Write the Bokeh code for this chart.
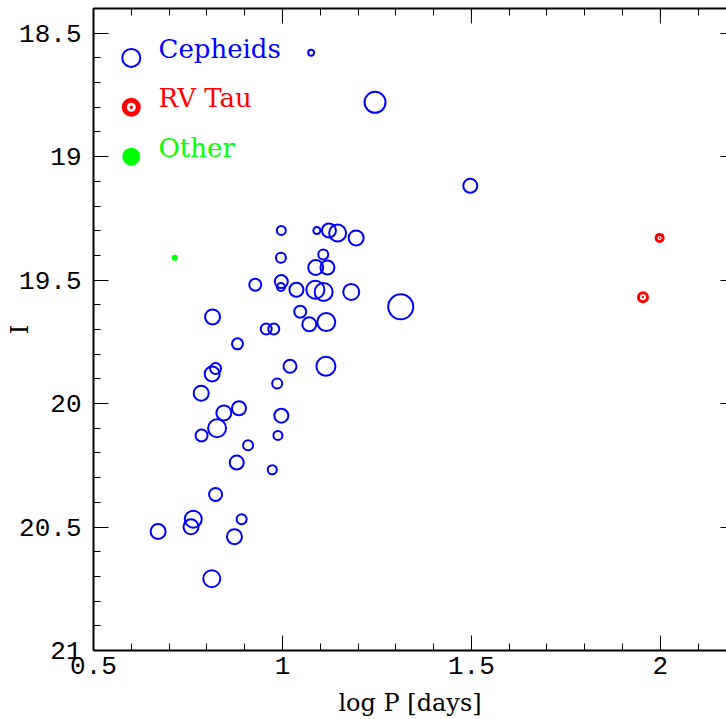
import numpy as np
from bokeh.plotting import figure
from bokeh.models import LinearAxis, FixedTicker, Range1d, ColumnDataSource
from bokeh.core.properties import value
from bokeh.embed import file_html
from bokeh.resources import INLINE

# ---- data ----
cep_logp = [1.076, 1.245, 1.497, 1.313, 0.997, 1.091, 1.123, 1.146, 1.195, 0.996,
            1.108, 1.088, 1.119, 0.928, 0.997, 0.996, 1.037, 1.087, 1.109, 1.182,
            1.047, 1.071, 1.116, 0.957, 0.977, 0.815, 0.881, 1.020, 1.115, 0.823,
            0.814, 0.986, 0.785, 0.885, 0.845, 0.997, 0.827, 0.786, 0.988, 0.909,
            0.879, 0.973, 0.823, 0.764, 0.758, 0.671, 0.892, 0.873, 0.813]
cep_I = [18.579, 18.780, 19.118, 19.608, 19.299, 19.299, 19.299, 19.309, 19.329, 19.409,
         19.396, 19.449, 19.449, 19.519, 19.506, 19.528, 19.539, 19.539, 19.548, 19.548,
         19.628, 19.679, 19.670, 19.698, 19.698, 19.649, 19.758, 19.849, 19.849, 19.858,
         19.880, 19.919, 19.958, 20.019, 20.038, 20.049, 20.100, 20.129, 20.129, 20.169,
         20.239, 20.268, 20.368, 20.468, 20.499, 20.518, 20.468, 20.539, 20.709]
cep_amp = [0.40, 1.15, 0.80, 1.35, 0.55, 0.45, 0.80, 0.95, 0.85, 0.60,
           0.60, 0.85, 0.80, 0.70, 0.75, 0.50, 0.80, 1.00, 1.00, 0.90,
           0.70, 0.80, 1.00, 0.65, 0.65, 0.85, 0.65, 0.75, 1.05, 0.65,
           0.85, 0.60, 0.85, 0.80, 0.85, 0.80, 1.00, 0.70, 0.55, 0.60,
           0.80, 0.55, 0.75, 0.95, 0.85, 0.85, 0.60, 0.85, 0.95]

rv_logp = [1.998, 1.954]
rv_I = [19.329, 19.569]
rv_amp = [0.45, 0.55]

oth_logp = [0.715]
oth_I = [19.409]

legend_labels = ["Cepheids", "RV Tau", "Other"]
legend_colors = ["#0000ff", "#ff0000", "#00ff00"]
legend_I = [18.6, 18.8, 19.0]

x_tick_vals = [0.5, 1.0, 1.5, 2.0]
x_tick_labels = ["0.5", "1", "1.5", "2"]
y_tick_vals = [18.5, 19.0, 19.5, 20.0, 20.5, 21.0]
y_tick_labels = ["18.5", "19", "19.5", "20", "20.5", "21"]

X0, X1 = 0.5, 2.175
Y_BOTTOM, Y_TOP = 21.0, 18.4

# ---- figure ----
p = figure(width=726, height=719,
           x_range=Range1d(X0, X1), y_range=Range1d(Y_BOTTOM, Y_TOP),
           output_backend="svg", toolbar_location=None,
           min_border_left=93, min_border_right=0, min_border_top=8, min_border_bottom=69,
           x_axis_label="log P [days]", y_axis_label="I")
p.outline_line_color = None
p.xgrid.visible = False
p.ygrid.visible = False
p.background_fill_color = "white"
p.border_fill_color = "white"

x_minor = [round(v, 2) for v in np.arange(0.5, 2.21, 0.1)]
y_minor = [round(v, 2) for v in np.arange(18.4, 21.01, 0.1)]

def style(ax, ticker):
    ax.ticker = ticker
    ax.major_tick_in = 15
    ax.major_tick_out = 0
    ax.minor_tick_in = 7
    ax.minor_tick_out = 0
    ax.major_tick_line_color = "black"
    ax.minor_tick_line_color = "black"
    ax.major_tick_line_width = 1
    ax.minor_tick_line_width = 1
    ax.axis_line_color = "black"
    ax.axis_line_width = 2
    ax.major_label_text_font = "Liberation Mono"
    ax.major_label_text_font_size = "26px"
    ax.major_label_text_color = "black"
    ax.axis_label_text_font = "DejaVu Serif"
    ax.axis_label_text_font_size = "24px"
    ax.axis_label_text_font_style = "normal"
    ax.axis_label_text_color = "black"

bx = p.xaxis[0]
style(bx, FixedTicker(ticks=x_tick_vals, minor_ticks=x_minor))
bx.major_label_overrides = dict(zip(x_tick_vals, x_tick_labels))
bx.major_label_standoff = 6
bx.axis_label_standoff = 12

ly = p.yaxis[0]
style(ly, FixedTicker(ticks=y_tick_vals, minor_ticks=y_minor))
ly.major_label_overrides = dict(zip(y_tick_vals, y_tick_labels))
ly.major_label_standoff = 12
ly.axis_label_standoff = -18

# top frame edge: line + short ticks only (no labels)
top = LinearAxis()
style(top, FixedTicker(ticks=[], minor_ticks=x_minor))
top.major_label_standoff = 0
p.add_layout(top, "above")
# long top ticks at the labelled positions (15 px inside the frame)
p.segment(x0=x_tick_vals, y0=[Y_TOP] * len(x_tick_vals),
          x1=x_tick_vals, y1=[Y_TOP + 15 / 246.9] * len(x_tick_vals),
          line_color="black", line_width=1)

# right edge: only the stubs of the long ticks are visible
right = LinearAxis()
style(right, FixedTicker(ticks=[], minor_ticks=y_tick_vals))
right.major_label_standoff = 0
right.axis_line_color = None
right.minor_tick_in = 6
p.add_layout(right, "right")

# ---- data marks ----
cep = ColumnDataSource(dict(x=cep_logp, y=cep_I, s=[a * 20 - 2 for a in cep_amp]))
p.scatter("x", "y", size="s", source=cep, marker="circle",
          fill_color=None, line_color="#0000ff", line_width=2)

rv = ColumnDataSource(dict(x=rv_logp, y=rv_I, s=[a * 20 - 2 for a in rv_amp]))
p.scatter("x", "y", size="s", source=rv, marker="circle_dot",
          fill_color=None, line_color="#ff0000", line_width=3)

p.scatter(oth_logp, oth_I, size=6, marker="circle",
          fill_color="#00ff00", line_color=None)

# ---- legend (drawn in the plot) ----
lx = 0.6
p.scatter([lx], [legend_I[0]], size=18, marker="circle", fill_color=None,
          line_color=legend_colors[0], line_width=2)
p.scatter([lx], [legend_I[1]], size=14, marker="circle_dot", fill_color=None,
          line_color=legend_colors[1], line_width=5)
p.scatter([lx], [legend_I[2]], size=18, marker="circle", fill_color=legend_colors[2],
          line_color=None)
leg = ColumnDataSource(dict(x=[0.672] * 3, y=legend_I, t=legend_labels, c=legend_colors))
p.text("x", "y", text="t", source=leg, text_color="c",
       text_font=value("DejaVu Serif"), text_font_size="26px",
       text_baseline="middle", text_align="left", y_offset=-9)

open("out.html", "w").write(file_html(p, INLINE))
